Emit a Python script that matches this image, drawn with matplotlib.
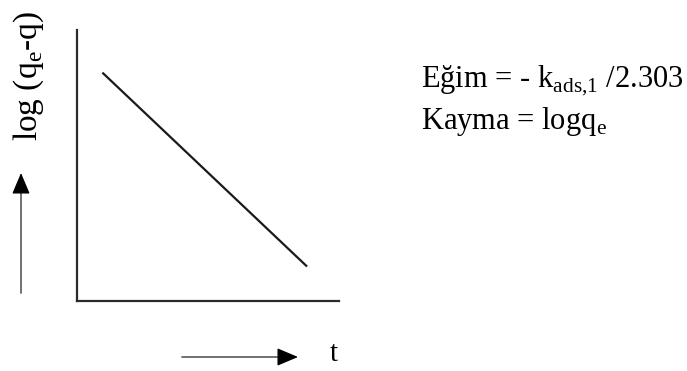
import matplotlib

matplotlib.use("Agg")
import matplotlib.pyplot as plt

# pseudo-first-order kinetics: log(qe - q) falls linearly with t
t_vals = [1.0, 8.75]
log_vals = [8.4, 1.3]

slope_text = r"Eğim = - k$_{\mathregular{ads{,}1}}$ /2.303"
intercept_text = r"Kayma = logq$_{\mathregular{e}}$"

plt.rcParams["font.family"] = ["Liberation Serif", "DejaVu Serif"]
plt.rcParams["mathtext.fontset"] = "custom"
plt.rcParams["mathtext.rm"] = "Liberation Serif"

W, H = 687, 371


def fx(px):
    return px / W


def fy(py):
    return 1 - py / H


fig = plt.figure(figsize=(6.87, 3.71), dpi=100)
ax = fig.add_axes([fx(77), fy(301), 262 / W, 271 / H])
ax.plot(t_vals, log_vals, color="#1a1a1a", lw=1.6)
ax.set_xlim(0, 10)
ax.set_ylim(0, 10)
for side in ("top", "right"):
    ax.spines[side].set_visible(False)
for side in ("left", "bottom"):
    ax.spines[side].set_linewidth(1.6)
    ax.spines[side].set_color("#2a2a2a")
ax.set_xticks([])
ax.set_yticks([])

# axis labels and direction arrows
fig.text(fx(29), fy(76), r"log (q$_{\mathregular{e}}$-q)", rotation=90,
         ha="center", va="center", fontsize=24)
shaft = dict(arrowstyle="-", color="#666666", lw=1.3, shrinkA=0, shrinkB=0)
head = dict(arrowstyle="-|>,head_length=1.3,head_width=0.55", color="black",
            lw=1.0, shrinkA=0, shrinkB=0)
ax.annotate("", xy=(fx(21), fy(180)), xytext=(fx(21), fy(293)),
            xycoords="figure fraction", textcoords="figure fraction",
            arrowprops=shaft)
ax.annotate("", xy=(fx(21), fy(173)), xytext=(fx(21), fy(190)),
            xycoords="figure fraction", textcoords="figure fraction",
            arrowprops=head)
ax.annotate("", xy=(fx(290), fy(357)), xytext=(fx(182), fy(357)),
            xycoords="figure fraction", textcoords="figure fraction",
            arrowprops=shaft)
ax.annotate("", xy=(fx(298), fy(357)), xytext=(fx(282), fy(357)),
            xycoords="figure fraction", textcoords="figure fraction",
            arrowprops=head)
fig.text(fx(334), fy(361), "t", ha="center", va="baseline", fontsize=21)

fig.text(fx(421), fy(86), slope_text, ha="left", va="baseline", fontsize=22)
fig.text(fx(421), fy(129), intercept_text, ha="left", va="baseline", fontsize=22)

fig.savefig("out.png", dpi=100)
